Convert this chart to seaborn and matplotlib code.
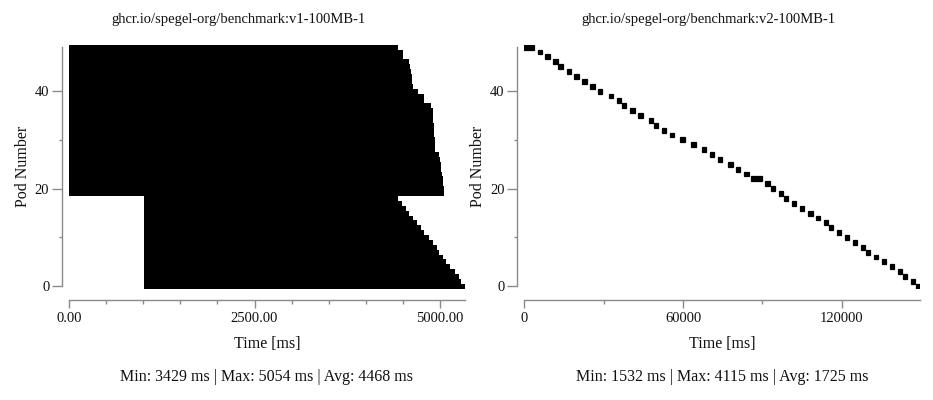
import matplotlib
matplotlib.use("Agg")
import matplotlib.pyplot as plt
import seaborn as sns
import pandas as pd
from matplotlib.ticker import MultipleLocator, FormatStrFormatter

# ---------------- data ----------------
pods = list(range(50))

titles = ["ghcr.io/spegel-org/benchmark:v1-100MB-1",
          "ghcr.io/spegel-org/benchmark:v2-100MB-1"]
stats = ["Min: 3429 ms | Max: 5054 ms | Avg: 4468 ms",
         "Min: 1532 ms | Max: 4115 ms | Avg: 1725 ms"]

# v1: start / end time per pod (pod 0 .. 49), ms
v1_start = [1004] * 19 + [0] * 31
v1_end = [5336, 5280, 5250, 5195, 5140, 5085, 5040, 4990, 4960, 4900,
          4845, 4790, 4745, 4690, 4640, 4585, 4540, 4490, 4433,
          5054, 5050, 5045, 5036, 5027, 5018, 5009, 4996, 4991, 4937,
          4933, 4928, 4924, 4919, 4915, 4910, 4906, 4901, 4874, 4784,
          4784, 4708, 4636, 4627, 4618, 4609, 4600, 4587, 4506, 4506,
          4438]

# v2: start time and duration per pod (pod 0 .. 49), ms
v2_start = [148020, 146130, 143100, 141200, 138170, 135140, 132110, 129080,
            127180, 124150, 121120, 118090, 115060, 113290, 110130, 107230,
            104200, 101040, 98140, 96110, 93080, 91060, 85640, 83100,
            80070, 77040, 73000, 70100, 67060, 63150, 58980, 54940,
            52040, 49000, 46980, 43070, 40040, 37010, 34980, 31950,
            27910, 25010, 21980, 18950, 16040, 12880, 10990, 7960,
            5050, 0]
v2_duration = [1640, 1610, 1655, 1590, 1620, 1680, 1600, 1645, 1570, 1630,
               1660, 1615, 1532, 1640, 1625, 1690, 1605, 1650, 1635, 1620,
               1580, 1660, 4115, 1645, 1610, 1670, 1625, 1600, 1655, 1630,
               1690, 1615, 1640, 1585, 1650, 1660, 1625, 1600, 1640, 1675,
               1610, 1630, 1655, 1620, 1645, 1600, 1665, 1625, 1640, 3800]

x_major = [2500, 60000]
x_minor = [500, 30000]
x_fmt = ["%.2f", "%d"]

# ---------------- style ----------------
sns.set_theme(style="ticks")
plt.rcParams["font.family"] = ["Liberation Serif", "DejaVu Serif"]
plt.rcParams["font.size"] = 10.5

df1 = pd.DataFrame({"pod": pods, "start": v1_start, "end": v1_end})
df1["dur"] = df1["end"] - df1["start"]
df2 = pd.DataFrame({"pod": pods, "start": v2_start, "dur": v2_duration})
df2["end"] = df2["start"] + df2["dur"]

W, H = 933, 400
fig = plt.figure(figsize=(W / 100, H / 100), dpi=100)

def px_axes(x0, x1, ytop, ybot):
    return fig.add_axes([x0 / W, 1 - ybot / H, (x1 - x0) / W, (ybot - ytop) / H])

axes = [px_axes(69, 465, 44.7, 288.7), px_axes(524.3, 920.4, 44.7, 288.7)]
spine_col = "#8a8a8a"
edge_w = [0.0, 0.9]

for i, (ax, df) in enumerate(zip(axes, [df1, df2])):
    ax.barh(df["pod"], df["dur"], left=df["start"], height=1.0,
            color="black", edgecolor="black", linewidth=edge_w[i])
    xmax = df["end"].max()
    ax.set_xlim(0, xmax)
    ax.set_ylim(-0.5, 49.5)
    for s in ["top", "right"]:
        ax.spines[s].set_visible(False)
    ax.spines["left"].set_position(("outward", 5))
    ax.spines["bottom"].set_position(("outward", 8))
    ax.spines["left"].set_bounds(0, 49)
    ax.spines["bottom"].set_bounds(0, xmax)
    for s in ["left", "bottom"]:
        ax.spines[s].set_color(spine_col)
        ax.spines[s].set_linewidth(1.0)
    ax.xaxis.set_major_locator(MultipleLocator(x_major[i]))
    ax.xaxis.set_minor_locator(MultipleLocator(x_minor[i]))
    ax.xaxis.set_major_formatter(FormatStrFormatter(x_fmt[i]))
    ax.yaxis.set_major_locator(MultipleLocator(20))
    ax.yaxis.set_minor_locator(MultipleLocator(10))
    ax.tick_params(axis="x", which="major", length=6, width=1, color=spine_col,
                   labelsize=10.5, pad=3, labelcolor="#111111")
    ax.tick_params(axis="x", which="minor", length=3, width=1, color=spine_col)
    ax.tick_params(axis="y", which="major", length=7.2, width=1, color=spine_col,
                   labelsize=10.5, pad=2, labelcolor="#111111")
    ax.tick_params(axis="y", which="minor", length=2.4, width=1, color=spine_col)
    ax.set_xlabel("Time [ms]", fontsize=11.5, labelpad=8, color="#111111")
    ax.set_ylabel("Pod Number", fontsize=11.5, labelpad=3, color="#111111")
    ax.set_facecolor("white")

fig.text(239 / W, 1 - 20 / H, titles[0], ha="center", va="center", fontsize=10.5, color="#111111")
fig.text(708 / W, 1 - 20 / H, titles[1], ha="center", va="center", fontsize=10.5, color="#111111")
fig.text(267 / W, 1 - 377 / H, stats[0], ha="center", va="center", fontsize=11.5, color="#111111")
fig.text(722 / W, 1 - 377 / H, stats[1], ha="center", va="center", fontsize=11.5, color="#111111")

fig.savefig("out.png", dpi=100, facecolor="white")
